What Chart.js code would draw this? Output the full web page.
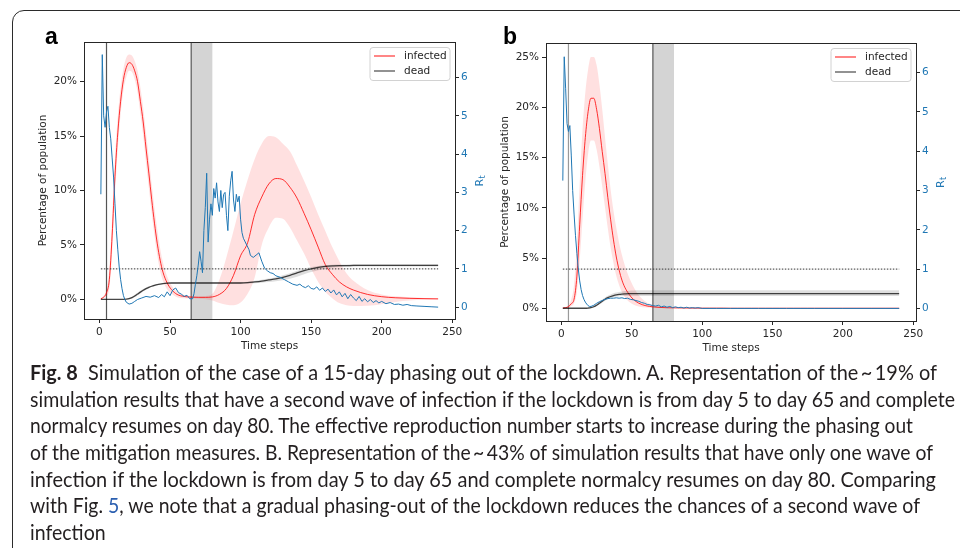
<!DOCTYPE html>
<html>
<head>
<meta charset="utf-8">
<script src="https://cdn.jsdelivr.net/npm/chart.js@4.4.1/dist/chart.umd.min.js"></script>
<style>
  html, body { margin: 0; padding: 0; background: #fff; }
  #page { position: relative; width: 960px; height: 548px; overflow: hidden; }
  #frame { position: absolute; left: 12px; top: 10px; width: 1000px; height: 600px;
           border: 1.5px solid #2b2b2b; border-top-left-radius: 12px; box-sizing: border-box; }
  canvas { position: absolute; left: 0; top: 0; }
  .letter { position: absolute; top: 25px; font: bold 23px "Liberation Sans", Arial, sans-serif; color: #000; line-height: 1; }
  .cap { position: absolute; left: 30px; font: 20.5px Lato, sans-serif; color: #231f20;
         white-space: nowrap; line-height: 1; transform-origin: 0 0; }
  .cap b { font-weight: bold; }
  .cap .ref { color: #2b5fb0; }
</style>
</head>
<body>
<div id="page">
  <div id="frame"></div>
  <canvas id="panelA" width="960" height="548"></canvas>
  <canvas id="panelB" width="960" height="548"></canvas>
  <div class="letter" style="left:45px">a</div>
  <div class="letter" style="left:503px">b</div>

  <div class="cap" data-right="937" style="top:362px"><b>Fig. 8</b>&nbsp;&nbsp;Simulation of the case of a 15-day phasing out of the lockdown. A. Representation of the&#8201;~&#8201;19% of</div>
  <div class="cap" data-right="955" style="top:389px">simulation results that have a second wave of infection if the lockdown is from day 5 to day 65 and complete</div>
  <div class="cap" data-right="913" style="top:415px">normalcy resumes on day 80. The effective reproduction number starts to increase during the phasing out</div>
  <div class="cap" data-right="933" style="top:442px">of the mitigation measures. B. Representation of the&#8201;~&#8201;43% of simulation results that have only one wave of</div>
  <div class="cap" data-right="936" style="top:469px">infection if the lockdown is from day 5 to day 65 and complete normalcy resumes on day 80. Comparing</div>
  <div class="cap" data-right="920" style="top:495px">with Fig. <span class="ref">5</span>, we note that a gradual phasing-out of the lockdown reduces the chances of a second wave of</div>
  <div class="cap" style="top:522px">infection</div>
</div>

<script>
// time axis shared by the smooth curves
const days = [1, 3, 5, 7, 9, 11, 13, 15, 17, 19,
              21, 23, 25, 27, 29, 31, 33, 35, 37, 39,
              41, 43, 45, 48, 51, 55, 60, 65, 70, 75,
              80, 85, 90, 95, 100, 105, 110, 115, 120, 125,
              130, 135, 140, 145, 150, 155, 160, 165, 170, 175,
              180, 190, 200, 210, 220, 230, 240];

const xTicks = [0, 50, 100, 150, 200, 250];
const pctTicksA = [0, 5, 10, 15, 20];
const pctTicksB = [0, 5, 10, 15, 20, 25];
const rtTicks = [0, 1, 2, 3, 4, 5, 6];

const lockdown = [5, 65];   // lockdown start / end
const phaseOut = [65, 80];  // gradual reopening
const rtThreshold = 1;

// panel a: second wave
const infectedA = [0.05, 0.2, 0.6, 1.8, 5.9, 11.3, 15.3, 18.2, 20.2, 21.3,
                   21.75, 21.6, 21.0, 20.0, 18.2, 16.3, 13.9, 11.6, 9.2, 7.0,
                   5.1, 3.6, 2.5, 1.5, 0.9, 0.45, 0.26, 0.2, 0.18, 0.18,
                   0.22, 0.45, 1.0, 2.2, 4.0, 5.2, 7.8, 9.4, 10.6, 11.1,
                   11.0, 10.3, 9.3, 7.9, 6.4, 4.8, 3.2, 2.3, 1.6, 1.15,
                   0.85, 0.45, 0.24, 0.14, 0.09, 0.06, 0.04];
const infectedUpA = [0.1, 0.3, 0.9, 2.8, 7.5, 13.0, 16.8, 19.5, 21.2, 22.2,
                     22.5, 22.4, 21.9, 21.0, 19.5, 17.6, 15.3, 13.0, 10.6, 8.4,
                     6.4, 4.7, 3.4, 2.1, 1.3, 0.7, 0.4, 0.3, 0.28, 0.3,
                     0.5, 1.8, 3.9, 6.3, 8.8, 11.0, 12.9, 14.3, 15.0, 14.9,
                     14.3, 13.6, 12.3, 10.9, 9.4, 7.8, 6.3, 4.8, 3.5, 2.4,
                     1.7, 0.85, 0.45, 0.27, 0.18, 0.12, 0.08];
const infectedLowA = [0.0, 0.1, 0.3, 1.0, 4.3, 9.6, 13.8, 17.0, 19.2, 20.4,
                      21.0, 20.9, 20.2, 19.0, 17.0, 15.0, 12.5, 10.2, 7.9, 5.8,
                      4.0, 2.6, 1.7, 0.9, 0.5, 0.2, 0.1, 0.08, 0.06, 0.0,
                      -0.1, -0.35, -0.5, -0.55, -0.3, 0.5, 2.0, 5.0, 6.6, 7.5,
                      7.4, 6.6, 5.4, 4.2, 2.8, 1.6, 0.7, 0.1, -0.35, -0.55,
                      -0.62, -0.6, -0.45, -0.25, -0.12, -0.05, -0.02];
const deadA = [0, 0, 0, 0, 0, 0, 0, 0, 0, 0.02,
               0.06, 0.15, 0.3, 0.48, 0.66, 0.83, 0.98, 1.1, 1.2, 1.28,
               1.35, 1.4, 1.44, 1.48, 1.5, 1.5, 1.5, 1.5, 1.5, 1.5,
               1.5, 1.5, 1.5, 1.5, 1.5, 1.53, 1.6, 1.68, 1.78, 1.88,
               2.02, 2.2, 2.42, 2.63, 2.8, 2.93, 3.02, 3.07, 3.1, 3.1,
               3.11, 3.11, 3.12, 3.12, 3.12, 3.12, 3.12];
const deadUpA = [0, 0, 0, 0, 0, 0, 0, 0, 0.02, 0.06,
                 0.14, 0.26, 0.42, 0.6, 0.78, 0.94, 1.08, 1.19, 1.28, 1.35,
                 1.41, 1.45, 1.49, 1.52, 1.54, 1.55, 1.56, 1.56, 1.56, 1.56,
                 1.56, 1.56, 1.56, 1.57, 1.58, 1.62, 1.7, 1.8, 1.91, 2.03,
                 2.2, 2.4, 2.62, 2.82, 2.96, 3.07, 3.14, 3.18, 3.2, 3.21,
                 3.22, 3.22, 3.23, 3.23, 3.23, 3.23, 3.23];
const deadLowA = [0, 0, 0, 0, 0, 0, 0, 0, 0, 0,
                  0.01, 0.06, 0.18, 0.36, 0.54, 0.72, 0.88, 1.01, 1.12, 1.21,
                  1.29, 1.35, 1.39, 1.44, 1.46, 1.46, 1.45, 1.45, 1.45, 1.45,
                  1.45, 1.45, 1.45, 1.44, 1.43, 1.44, 1.47, 1.52, 1.58, 1.66,
                  1.76, 1.9, 2.08, 2.3, 2.5, 2.68, 2.82, 2.9, 2.96, 2.99,
                  3.0, 3.01, 3.01, 3.01, 3.01, 3.01, 3.01];
const rtDaysA = [1, 2, 3, 4, 5, 6, 7, 8, 9, 10, 11, 12, 13, 14, 15, 16, 17, 18, 19,
                 21, 23, 25, 27, 30, 33, 36, 39, 42, 44,
                 46, 48, 50, 52, 54, 56, 58, 60, 62, 64,
                 66, 67, 68, 69, 70, 71, 72, 73, 74, 75,
                 76, 77, 78, 79, 80, 81, 82, 83, 84, 85,
                 86, 87, 88, 89, 90, 91, 92, 93, 94, 95,
                 96, 97, 98, 99, 100, 101, 102, 104, 106, 107,
                 109, 111, 113, 115, 117, 119, 121, 123, 125, 128,
                 131, 134, 137, 140, 142, 144, 146, 148, 150, 152,
                 154, 156, 158, 160, 162, 164, 166, 168, 170, 172,
                 174, 176, 178, 180, 182, 184, 186, 188, 190, 192,
                 194, 196, 198, 200, 203, 206, 209, 212, 215, 218,
                 221, 225, 230, 235, 240];
const rtA = [2.95, 6.6, 5.0, 4.7, 5.1, 5.25, 4.7, 4.4, 3.9, 3.4, 2.7, 2.0, 1.5, 1.05, 0.72, 0.48, 0.3, 0.2, 0.13,
             0.08, 0.1, 0.15, 0.2, 0.24, 0.28, 0.26, 0.3, 0.25, 0.33,
             0.27, 0.4, 0.3, 0.45, 0.5, 0.38, 0.34, 0.28, 0.31, 0.22,
             0.22, 0.35, 0.6, 0.82, 1.1, 1.45, 1.2, 0.9, 2.0, 2.6,
             3.5, 1.7, 2.3, 2.7, 2.4, 3.1, 2.85, 3.25, 2.75, 2.5,
             3.05, 2.6, 2.95, 3.0, 2.4, 2.0, 2.9, 3.3, 3.55, 2.8,
             2.5, 2.95, 2.75, 2.9, 2.3, 1.95, 1.8, 1.65, 1.5, 1.35,
             1.3, 1.36, 1.42, 1.2, 1.02, 0.95, 0.9, 0.88, 0.82, 0.78,
             0.72, 0.66, 0.6, 0.57, 0.6, 0.54, 0.51, 0.56, 0.49, 0.47,
             0.53, 0.44, 0.5, 0.41, 0.47, 0.37, 0.45, 0.32, 0.4, 0.27,
             0.36, 0.22, 0.33, 0.24, 0.17, 0.28, 0.15, 0.22, 0.14, 0.2,
             0.12, 0.17, 0.11, 0.15, 0.09, 0.12, 0.07, 0.08, 0.05, 0.07,
             0.04, 0.03, 0.02, 0.01, 0.0];

// panel b: single wave
const infectedB = [0.02, 0.06, 0.15, 0.45, 0.9, 3.2, 8.3, 13.2, 17.0, 19.6,
                   20.9, 20.9, 19.8, 17.9, 15.6, 13.4, 11.0, 8.8, 6.8, 5.1,
                   3.8, 2.8, 2.1, 1.4, 0.9, 0.5, 0.25, 0.14, 0.08, 0.05,
                   0.04, 0.03, 0.02, 0.01, 0.01, 0.01, 0.01, 0.01, 0.0, 0.0,
                   0, 0, 0, 0, 0, 0, 0, 0, 0, 0,
                   0, 0, 0, 0, 0, 0, 0];
const infectedUpB = [0.03, 0.1, 0.3, 0.9, 2.4, 6.5, 12.5, 17.8, 21.5, 23.8,
                     25.0, 25.0, 24.2, 22.3, 19.8, 17.0, 14.3, 11.8, 9.7, 8.0,
                     6.5, 5.3, 4.3, 3.1, 2.2, 1.3, 0.65, 0.3, 0.15, 0.09,
                     0.06, 0.04, 0.03, 0.02, 0.02, 0.01, 0.01, 0.01, 0.01, 0.01,
                     0.01, 0.01, 0.01, 0.01, 0.01, 0.01, 0.01, 0.01, 0.01, 0.01,
                     0.01, 0.01, 0.01, 0.01, 0.01, 0.01, 0.01];
const infectedLowB = [0.0, 0.03, 0.08, 0.2, 0.5, 1.6, 4.7, 8.8, 12.6, 15.4,
                      16.7, 16.7, 15.8, 14.1, 12.1, 10.0, 7.9, 6.0, 4.5, 3.2,
                      2.3, 1.6, 1.1, 0.65, 0.38, 0.18, 0.08, 0.04, 0.02, 0.01,
                      0.01, 0, 0, 0, 0, 0, 0, 0, 0, 0,
                      0, 0, 0, 0, 0, 0, 0, 0, 0, 0,
                      0, 0, 0, 0, 0, 0, 0];
const deadB = [0, 0, 0, 0, 0, 0, 0, 0, 0, 0.02,
               0.06, 0.15, 0.3, 0.5, 0.7, 0.9, 1.05, 1.17, 1.26, 1.33,
               1.38, 1.41, 1.43, 1.45, 1.45, 1.45, 1.45, 1.45, 1.45, 1.45,
               1.45, 1.45, 1.45, 1.45, 1.45, 1.45, 1.45, 1.45, 1.45, 1.45,
               1.45, 1.45, 1.45, 1.45, 1.45, 1.45, 1.45, 1.45, 1.45, 1.45,
               1.45, 1.45, 1.45, 1.45, 1.45, 1.45, 1.45];
const deadUpB = [0, 0, 0, 0, 0, 0, 0, 0, 0.02, 0.06,
                 0.14, 0.27, 0.45, 0.67, 0.88, 1.08, 1.24, 1.37, 1.48, 1.56,
                 1.62, 1.67, 1.71, 1.75, 1.77, 1.79, 1.8, 1.8, 1.8, 1.8,
                 1.8, 1.8, 1.8, 1.8, 1.8, 1.8, 1.8, 1.8, 1.8, 1.8,
                 1.8, 1.8, 1.8, 1.8, 1.8, 1.8, 1.8, 1.8, 1.8, 1.8,
                 1.8, 1.8, 1.8, 1.8, 1.8, 1.8, 1.8];
const deadLowB = [0, 0, 0, 0, 0, 0, 0, 0, 0, 0,
                  0.02, 0.08, 0.2, 0.36, 0.54, 0.74, 0.9, 1.02, 1.1, 1.16,
                  1.2, 1.22, 1.23, 1.23, 1.23, 1.23, 1.23, 1.23, 1.23, 1.23,
                  1.23, 1.23, 1.23, 1.23, 1.23, 1.23, 1.23, 1.23, 1.23, 1.23,
                  1.23, 1.23, 1.23, 1.23, 1.23, 1.23, 1.23, 1.23, 1.23, 1.23,
                  1.23, 1.23, 1.23, 1.23, 1.23, 1.23, 1.23];
const rtDaysB = [1, 2, 3, 4, 5, 6, 7, 8, 9, 10,
                 11, 12, 13, 14, 15, 16, 17, 18, 19, 20,
                 21, 23, 25, 27, 29, 31, 33, 35, 37, 39,
                 41, 43, 45, 47, 49, 51, 53, 55, 57, 59,
                 61, 63, 65, 67, 69, 71, 73, 75, 77, 79,
                 81, 83, 85, 87, 89, 91, 93, 95, 97, 100,
                 110, 120, 140, 160, 180, 200, 220, 240];
const rtB = [3.25, 6.4, 5.6, 4.7, 4.5, 4.65, 3.9, 3.0, 2.4, 1.85,
             1.4, 1.0, 0.7, 0.48, 0.33, 0.23, 0.16, 0.11, 0.07, 0.05,
             0.05, 0.08, 0.13, 0.17, 0.2, 0.23, 0.25, 0.26, 0.26, 0.27,
             0.26, 0.27, 0.25, 0.26, 0.23, 0.22, 0.2, 0.18, 0.15, 0.13,
             0.1, 0.09, 0.07, 0.06, 0.08, 0.04, 0.06, 0.03, 0.05, 0.02,
             0.04, 0.02, 0.03, 0.01, 0.03, 0.01, 0.02, 0.01, 0.02, 0.0,
             0.0, 0.0, 0.0, 0.0, 0.0, 0.0, 0.0, 0.0];

const RED = 'rgba(255, 0, 0, 0.8)';
const DARK = 'rgba(0, 0, 0, 0.72)';
const BLUE = '#1f77b4';
const INK = '#262626';
const SMALL = '10.5px "DejaVu Sans", sans-serif';

const pts = (xs, ys) => xs.map((x, i) => ({x: x, y: ys[i]}));

// shading, reference lines, frame, legend and axis titles
const decor = {
    id: 'decor',
    beforeDatasetsDraw(chart, args, opts) {
        const {ctx, chartArea: a, scales: {x}} = chart;
        ctx.save();
        const s0 = x.getPixelForValue(phaseOut[0]);
        const s1 = x.getPixelForValue(phaseOut[1]);
        ctx.fillStyle = 'rgba(0, 0, 0, 0.17)';
        ctx.fillRect(s0, a.top, s1 - s0, a.bottom - a.top);
        lockdown.forEach((d, i) => {
            const px = x.getPixelForValue(d);
            ctx.strokeStyle = opts.vlineColors[i];
            ctx.lineWidth = 1.2;
            ctx.beginPath();
            ctx.moveTo(px, a.top);
            ctx.lineTo(px, a.bottom);
            ctx.stroke();
        });
        ctx.restore();
    },
    afterDraw(chart) {
        const {ctx, chartArea: a} = chart;
        ctx.save();

        ctx.strokeStyle = INK;
        ctx.lineWidth = 1;
        ctx.strokeRect(Math.round(a.left) + 0.5, Math.round(a.top) + 0.5,
                       Math.round(a.right - a.left), Math.round(a.bottom - a.top));

        // legend box
        const lx = a.right - 85, ly = a.top + 5.5;
        ctx.beginPath();
        ctx.roundRect(lx, ly, 80, 33, 3);
        ctx.fillStyle = 'rgba(255, 255, 255, 0.85)';
        ctx.fill();
        ctx.strokeStyle = '#d2d2d2';
        ctx.stroke();
        [['infected', RED], ['dead', DARK]].forEach(([label, color], i) => {
            const yy = ly + 8.5 + i * 15;
            ctx.strokeStyle = color;
            ctx.lineWidth = 1.2;
            ctx.beginPath();
            ctx.moveTo(lx + 4, yy);
            ctx.lineTo(lx + 25, yy);
            ctx.stroke();
            ctx.fillStyle = INK;
            ctx.font = SMALL;
            ctx.textBaseline = 'middle';
            ctx.textAlign = 'left';
            ctx.fillText(label, lx + 34, yy);
        });

        // axis titles
        ctx.fillStyle = INK;
        ctx.font = SMALL;
        ctx.textAlign = 'center';
        ctx.textBaseline = 'alphabetic';
        ctx.fillText('Time steps', (a.left + a.right) / 2, a.bottom + 30);

        const cy = (a.top + a.bottom) / 2;
        ctx.save();
        ctx.translate(a.left - 41, cy);
        ctx.rotate(-Math.PI / 2);
        ctx.textBaseline = 'middle';
        ctx.fillText('Percentage of population', 0, 0);
        ctx.restore();

        ctx.save();
        ctx.translate(a.right + 25, cy);
        ctx.rotate(-Math.PI / 2);
        ctx.fillStyle = BLUE;
        ctx.textBaseline = 'middle';
        ctx.textAlign = 'left';
        ctx.font = '11px "DejaVu Sans", sans-serif';
        ctx.fillText('R', -6, 0);
        ctx.font = '8px "DejaVu Sans", sans-serif';
        ctx.fillText('t', 2, 3);
        ctx.restore();

        ctx.restore();
    }
};

function axis(pos, min, max, tickVals, size, fmt, labelColor) {
    return {
        type: 'linear',
        position: pos,
        min: min,
        max: max,
        afterBuildTicks: s => { s.ticks = tickVals.map(v => ({value: v})); },
        afterFit: s => {
            if (pos === 'bottom') s.height = size; else s.width = size;
        },
        grid: {drawOnChartArea: false, drawTicks: true, tickLength: 4, color: INK},
        border: {display: false},
        ticks: {
            autoSkip: false,
            maxRotation: 0,
            padding: pos === 'right' ? 2 : 3,
            color: labelColor,
            font: {family: 'DejaVu Sans', size: 10.5},
            callback: fmt
        }
    };
}

function drawPanel(canvasId, p) {
    const ctx = document.getElementById(canvasId).getContext('2d');
    const smooth = {pointRadius: 0, cubicInterpolationMode: 'monotone', yAxisID: 'y'};

    new Chart(ctx, {
        type: 'line',
        data: {
            datasets: [
                {...smooth, data: pts(days, p.infUp), borderWidth: 0, borderColor: 'transparent', fill: false, order: 7},
                {...smooth, data: pts(days, p.infLow), borderWidth: 0, borderColor: 'transparent',
                 fill: '-1', backgroundColor: 'rgba(255, 0, 0, 0.12)', order: 7},
                {...smooth, data: pts(days, p.inf), borderColor: RED, borderWidth: 1, fill: false, order: 6},
                {...smooth, data: pts(days, p.deadUp), borderWidth: 0, borderColor: 'transparent', fill: false, order: 5},
                {...smooth, data: pts(days, p.deadLow), borderWidth: 0, borderColor: 'transparent',
                 fill: '-1', backgroundColor: 'rgba(0, 0, 0, 0.13)', order: 5},
                {...smooth, data: pts(days, p.dead), borderColor: DARK, borderWidth: 1.3, fill: false, order: 4},
                {data: pts([days[0], days[days.length - 1]], [rtThreshold, rtThreshold]), yAxisID: 'rt',
                 pointRadius: 0, borderColor: '#333', borderWidth: 1, borderDash: [1.5, 1.5], fill: false, order: 2},
                {data: pts(p.rtDays, p.rt), yAxisID: 'rt', pointRadius: 0, tension: 0,
                 borderColor: BLUE, borderWidth: 1, fill: false, order: 1}
            ]
        },
        options: {
            responsive: false,
            animation: false,
            devicePixelRatio: 1,
            layout: {padding: p.padding},
            plugins: {
                legend: {display: false},
                tooltip: {enabled: false},
                decor: {vlineColors: p.vlineColors}
            },
            scales: {
                x: axis('bottom', -10.95, 251.95, xTicks, 35, v => v, INK),
                y: axis('left', p.pctRange[0], p.pctRange[1], p.pctTicks, 45, v => v + '%', INK),
                rt: axis('right', p.rtRange[0], p.rtRange[1], rtTicks, 30, v => v, BLUE)
            }
        },
        plugins: [decor]
    });
}

drawPanel('panelA', {
    inf: infectedA, infUp: infectedUpA, infLow: infectedLowA,
    dead: deadA, deadUp: deadUpA, deadLow: deadLowA,
    rtDays: rtDaysA, rt: rtA,
    pctRange: [-1.81, 23.65], pctTicks: pctTicksA, rtRange: [-0.31, 6.93],
    vlineColors: ['#555', '#555'],
    padding: {left: 39, right: 475, top: 42, bottom: 194}
});

drawPanel('panelB', {
    inf: infectedB, infUp: infectedUpB, infLow: infectedLowB,
    dead: deadB, deadUp: deadUpB, deadLow: deadLowB,
    rtDays: rtDaysB, rt: rtB,
    pctRange: [-1.27, 26.4], pctTicks: pctTicksB, rtRange: [-0.32, 6.75],
    vlineColors: ['#9a9a9a', '#555'],
    padding: {left: 501, right: 14, top: 43, bottom: 192}
});

// fit each caption line to its measured width
document.fonts.ready.then(() => {
    const lines = Array.from(document.querySelectorAll('.cap'));
    const scales = [];
    lines.forEach(el => {
        const right = +el.dataset.right;
        if (!right) return;
        const k = (right - 30) / el.getBoundingClientRect().width;
        scales.push(k);
        el.style.transform = 'scaleX(' + k + ')';
    });
    const avg = scales.reduce((s, k) => s + k, 0) / scales.length;
    lines.forEach(el => {
        if (!el.dataset.right) el.style.transform = 'scaleX(' + avg + ')';
    });
});
</script>
</body>
</html>
